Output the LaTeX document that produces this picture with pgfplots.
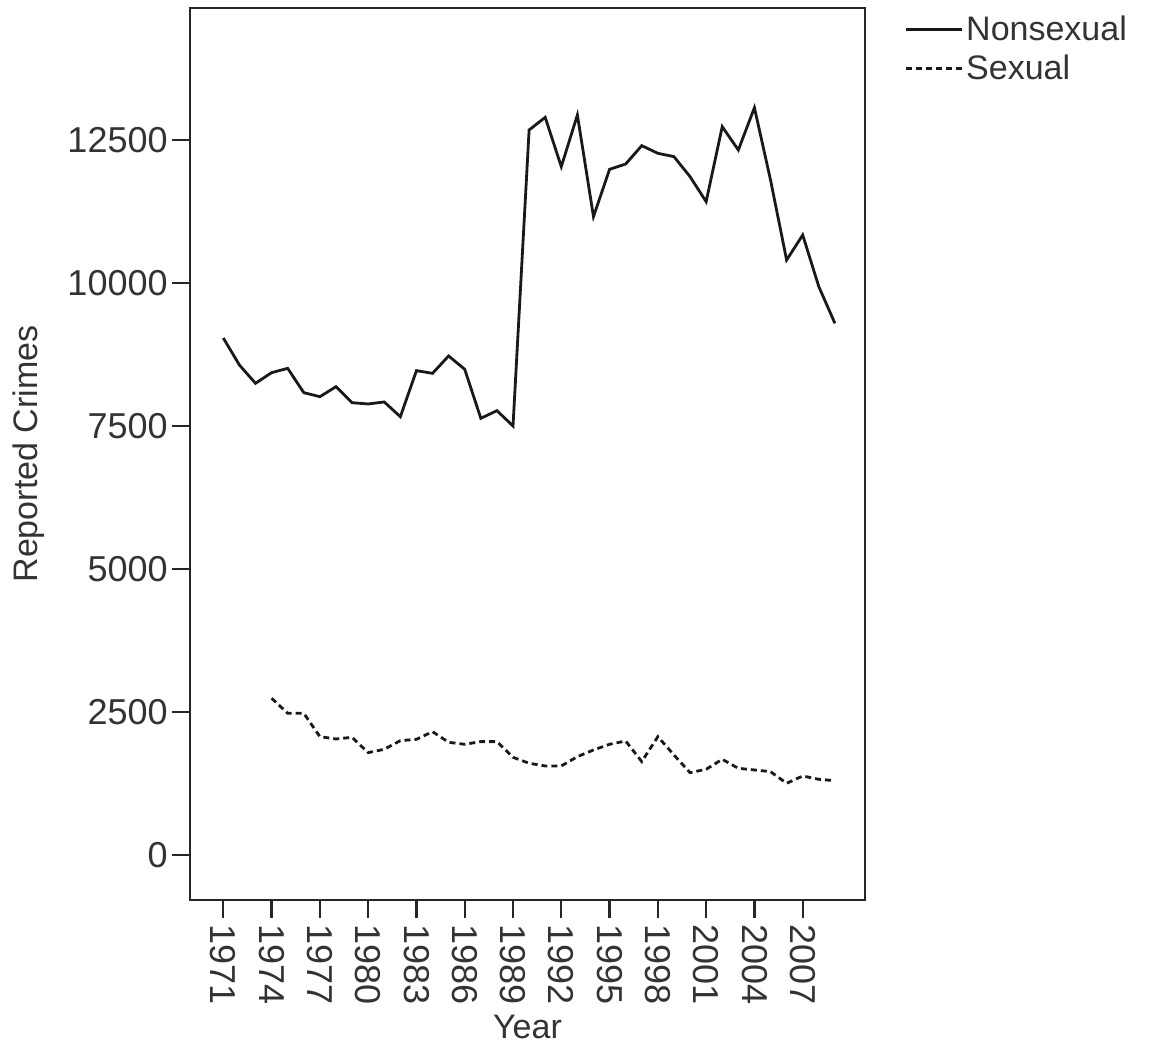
\documentclass[border=0pt]{standalone}
\usepackage{fontspec}
\setmainfont{Liberation Sans}
\usepackage{pgfplots}
\pgfplotsset{compat=1.18}

\begin{document}
\begin{tikzpicture}[font=\fontsize{17}{20}\selectfont]
% page frame, in the reference's proportions
\path (-95pt,-76pt) rectangle (481pt,450pt);
\begin{axis}[
    at={(0pt,0pt)}, anchor=south west,
    scale only axis, width=337.5pt, height=446pt,
    xmin=1968.93, xmax=2010.87,
    ymin=-787, ymax=14808,
    xtick={1971,1974,...,2007},
    ytick={0,2500,...,12500},
    scaled y ticks=false,
    tick align=outside, tick pos=left,
    major tick length=9pt,
    axis line style={line width=1.1pt, black!85},
    every tick/.style={line width=1.1pt, black!85},
    /pgf/number format/assume math mode=true,
    /pgf/number format/set thousands separator={},
    tick label style={text=black!80, font=\fontsize{18}{21}\selectfont},
    x tick label style={rotate=-90, anchor=west, inner sep=3pt},
    y tick label style={inner sep=2pt},
    xlabel={Year}, ylabel={Reported Crimes},
    xlabel style={at={(axis description cs:0.5,-0.129)}, anchor=north, inner sep=0pt, text=black!80},
    ylabel style={at={(axis description cs:-0.215,0.5)}, anchor=south, inner sep=0pt, text=black!80},
    legend style={at={(1,1)}, anchor=north west, xshift=19.5pt, yshift=-2pt,
        draw=none, fill=none, inner sep=0pt, row sep=3pt,
        nodes={inner sep=1.5pt, text=black!80}},
    legend cell align=left,
    legend image code/.code={\draw[#1] (0pt,0pt) -- (28pt,0pt);},
]
\addplot[line width=1.4pt, black!90] coordinates {
(1971,9038)(1972,8566)(1973,8246)(1974,8432)(1975,8508)(1976,8082)
(1977,8012)(1978,8187)(1979,7907)(1980,7885)(1981,7920)(1982,7662)
(1983,8467)(1984,8421)(1985,8724)(1986,8491)(1987,7634)(1988,7768)
(1989,7500)(1990,12675)(1991,12896)(1992,12034)(1993,12937)(1994,11160)
(1995,11987)(1996,12080)(1997,12401)(1998,12267)(1999,12209)(2000,11859)
(2001,11422)(2002,12733)(2003,12325)(2004,13065)(2005,11801)(2006,10402)
(2007,10839)(2008,9936)(2009,9295)
};
\addlegendentry{Nonsexual}
\addplot[line width=1.4pt, black!90, dash pattern=on 3pt off 2pt] coordinates {
(1974,2740)(1975,2477)(1976,2477)(1977,2069)(1978,2028)(1979,2057)
(1980,1789)(1981,1848)(1982,1999)(1983,2022)(1984,2156)(1985,1970)
(1986,1935)(1987,1982)(1988,1982)(1989,1708)(1990,1603)(1991,1556)
(1992,1556)(1993,1719)(1994,1836)(1995,1935)(1996,1993)(1997,1632)
(1998,2069)(1999,1748)(2000,1439)(2001,1498)(2002,1673)(2003,1515)
(2004,1486)(2005,1457)(2006,1253)(2007,1381)(2008,1323)(2009,1299)
};
\addlegendentry{Sexual}
\end{axis}
\end{tikzpicture}
\end{document}
